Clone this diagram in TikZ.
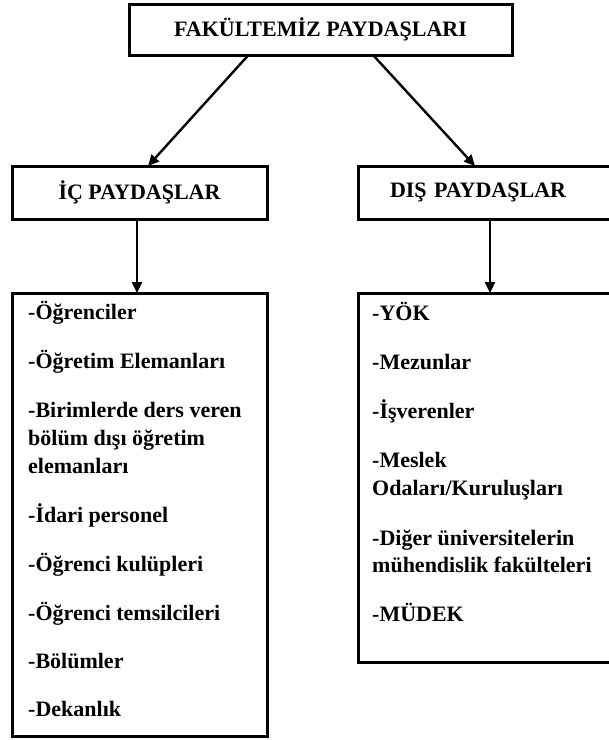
\documentclass[tikz,border=0pt]{standalone}
\usepackage{fontspec}
\setmainfont{Liberation Serif}
\usetikzlibrary{arrows.meta}
\tikzset{
  boxnode/.style={draw, line width=3pt, outer sep=0pt, inner sep=0pt},
  itemtext/.style={anchor=base west, inner sep=0pt, font=\bfseries\fontsize{22}{26}\selectfont},
  headtext/.style={font=\bfseries\fontsize{22}{26}\selectfont},
  conn/.style={line width=2.4pt, -{Triangle[length=11pt,width=10pt]}}
}
\begin{document}
\begin{tikzpicture}[x=1pt,y=-1pt]
\clip (0,0) rectangle (609,740);
\fill[white] (0,0) rectangle (609,740);
% boxes
\node[boxnode, minimum width=383pt, minimum height=51pt, font=\bfseries\fontsize{22}{26}\selectfont] (title) at (320.5,29.5) {FAKÜLTEMİZ PAYDAŞLARI};
\node[boxnode, headtext, minimum width=255pt, minimum height=53pt] (ic) at (139.5,192.5) {İÇ PAYDAŞLAR};
\node[boxnode, headtext, anchor=west, minimum height=53pt, text width=198pt, inner xsep=32pt, align=left] (dis) at (358,192.5) {DIŞ PAYDAŞLAR};
\node[boxnode, minimum width=255pt, minimum height=443pt] (iclist) at (139.5,514.5) {};
\node[boxnode, minimum width=262pt, minimum height=369pt] (dislist) at (489,477.5) {};
% arrows
\draw[conn] ([xshift=-72pt]title.south) -- ([xshift=8.5pt]ic.north);
\draw[conn] ([xshift=52.5pt]title.south) -- ([xshift=-14pt]dis.north);
\draw[conn] ([xshift=-2.5pt]ic.south) -- ([xshift=-2.5pt]iclist.north);
\draw[conn] ([xshift=1pt]dis.south) -- ([xshift=1pt]dislist.north);
% left items
\node[itemtext] (l1) at (28,319) {-Öğrenciler};
\node[itemtext] (l2) at (28,368) {-Öğretim Elemanları};
\node[itemtext] (l3) at (28,417) {-Birimlerde ders veren};
\node[itemtext] (l3b) at (28,445) {bölüm dışı öğretim};
\node[itemtext] (l3c) at (28,473) {elemanları};
\node[itemtext] (l4) at (28,522) {-İdari personel};
\node[itemtext] (l5) at (28,571) {-Öğrenci kulüpleri};
\node[itemtext] (l6) at (28,620) {-Öğrenci temsilcileri};
\node[itemtext] (l7) at (28,668) {-Bölümler};
\node[itemtext] (l8) at (28,716) {-Dekanlık};
% right items
\node[itemtext] (r1) at (372,320) {-YÖK};
\node[itemtext] (r2) at (372,369) {-Mezunlar};
\node[itemtext] (r3) at (372,418) {-İşverenler};
\node[itemtext] (r4) at (372,467) {-Meslek};
\node[itemtext] (r4b) at (372,495) {Odaları/Kuruluşları};
\node[itemtext] (r5) at (372,545) {-Diğer üniversitelerin};
\node[itemtext] (r5b) at (372,572) {mühendislik fakülteleri};
\node[itemtext] (r6) at (372,621) {-MÜDEK};
\end{tikzpicture}
\end{document}
